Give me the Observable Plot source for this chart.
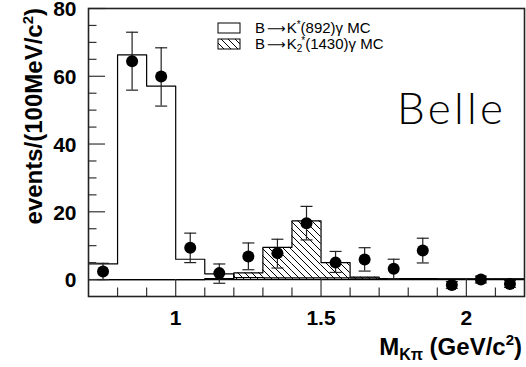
<!DOCTYPE html>
<html><head><meta charset="utf-8">
<script src="https://cdn.jsdelivr.net/npm/d3@7"></script>
<script src="https://cdn.jsdelivr.net/npm/@observablehq/plot@0.6"></script>
<style>body{margin:0;background:#fff} svg{display:block}</style>
</head><body><div id="chart"></div>
<script>
// Histogram bins (lower edges), width 0.1 GeV/c^2
const binLow = [0.7,0.8,0.9,1.0,1.1,1.2,1.3,1.4,1.5,1.6,1.7,1.8,1.9,2.0,2.1];
const binWidth = 0.1;
// B -> K*(892) gamma MC (open histogram)
const kstarMC = [4.6,66.3,57.1,6.0,1.7,0.6,0.5,0.5,0.5,0.4,0.3,0.3,0.2,0.2,0.2];
// B -> K2*(1430) gamma MC (hatched histogram)
const k2starMC = [0,0,0,0,0.3,2.0,9.5,17.3,5.0,0.7,0.2,0.2,0.1,0.1,0.1];
// Data points
const dataX  = [0.75,0.85,0.95,1.05,1.15,1.25,1.35,1.45,1.55,1.65,1.75,1.85,1.95,2.05,2.15];
const dataY  = [2.4,64.4,59.9,9.4,1.9,6.8,7.8,16.6,5.0,5.9,3.2,8.6,-1.6,0.0,-1.3];
const dataHi = [4.8,73.0,68.4,13.7,4.6,10.8,11.9,21.6,8.3,9.4,6.0,12.2,-0.6,1.0,-0.3];
const dataLo = [0.0,55.9,51.2,5.0,-1.1,2.9,3.4,11.7,2.1,2.5,0.2,4.9,-2.6,-1.0,-2.3];
// Ticks
const xMajorTicks = [1, 1.5, 2];
const xMinorTicks = [0.8,0.9,1.1,1.2,1.3,1.4,1.6,1.7,1.8,1.9,2.1];
const yMajorTicks = [0, 20, 40, 60, 80];
const yMinorTicks = [5,10,15,25,30,35,45,50,55,65,70,75];

const W = 526, H = 367, mL = 88, mR = 2, mT = 8, mB = 71;
const plotW = W - mL - mR, plotH = H - mT - mB;

const bins = binLow.map((x1, i) => ({x1, x2: x1 + binWidth, kstar: kstarMC[i], k2: k2starMC[i]}));
const edges = binLow.concat([binLow[binLow.length - 1] + binWidth]);
const kstarStep = edges.map((x, i) => ({x, y: kstarMC[Math.min(i, kstarMC.length - 1)]}));
const k2Step = edges.map((x, i) => ({x, y: k2starMC[Math.min(i, k2starMC.length - 1)]}));
const pts = dataX.map((x, i) => ({x, y: dataY[i], hi: dataHi[i], lo: dataLo[i]}));

const capSymbol = {draw(ctx, size) { const r = Math.sqrt(size / Math.PI); ctx.moveTo(-r, 0); ctx.lineTo(r, 0); }};

const svg = Plot.plot({
  width: W, height: H,
  marginLeft: mL, marginRight: mR, marginTop: mT, marginBottom: mB,
  style: {fontFamily: "'Liberation Sans', Arial, sans-serif", background: "white", color: "black"},
  x: {domain: [0.7, 2.2]},
  y: {domain: [-5, 80]},
  marks: [
    Plot.rectY(bins, {x1: "x1", x2: "x2", y: "k2", fill: "url(#hatch)"}),
    Plot.line(k2Step, {x: "x", y: "y", curve: "step-after", stroke: "black", strokeWidth: 1.2}),
    Plot.line(kstarStep, {x: "x", y: "y", curve: "step-after", stroke: "black", strokeWidth: 1.2}),
    Plot.ruleY([0], {stroke: "black", strokeWidth: 1.2}),
    Plot.tickY(yMajorTicks, {y: d => d, insetRight: plotW - 17, stroke: "#333", strokeWidth: 1.2}),
    Plot.tickY(yMinorTicks, {y: d => d, insetRight: plotW - 8.5, stroke: "#333", strokeWidth: 1.2}),
    Plot.tickX(xMajorTicks, {x: d => d, insetTop: plotH - 17, stroke: "#333", strokeWidth: 1.2}),
    Plot.tickX(xMinorTicks, {x: d => d, insetTop: plotH - 8.5, stroke: "#333", strokeWidth: 1.2}),
    Plot.axisY(yMajorTicks, {tickSize: 0, tickPadding: 12, dy: 1, fontSize: 21, fontWeight: "bold", label: null, tickFormat: d => String(d)}),
    Plot.axisX(xMajorTicks, {tickSize: 0, tickPadding: 14, fontSize: 21, fontWeight: "bold", label: null, tickFormat: d => String(d)}),
    Plot.ruleX(pts, {x: "x", y1: "lo", y2: "hi", stroke: "#222", strokeWidth: 1.2}),
    Plot.dot(pts, {x: "x", y: "hi", symbol: capSymbol, r: 6, fill: "none", stroke: "#222", strokeWidth: 1.2}),
    Plot.dot(pts, {x: "x", y: "lo", symbol: capSymbol, r: 6, fill: "none", stroke: "#222", strokeWidth: 1.2}),
    Plot.dot(pts, {x: "x", y: "y", r: 6, fill: "black"}),
    Plot.frame({stroke: "#222", strokeWidth: 1.6})
  ]
});

const s = d3.select(svg);
const defs = s.insert("defs", ":first-child");
const pat = defs.append("pattern").attr("id", "hatch").attr("patternUnits", "userSpaceOnUse")
  .attr("width", 7).attr("height", 7);
pat.append("rect").attr("width", 7).attr("height", 7).attr("fill", "white");
pat.append("path").attr("d", "M-1,6 L1,8 M0,0 L7,7 M6,-1 L8,1").attr("stroke", "black").attr("stroke-width", 1);

// Y title
const yt = s.append("text").attr("transform", "translate(42,8) rotate(-90)")
  .attr("text-anchor", "end").attr("font-size", 24).attr("font-weight", "bold").attr("fill", "black");
yt.append("tspan").text("events/(100MeV/c");
yt.append("tspan").attr("dy", -9).attr("font-size", 15).text("2");
yt.append("tspan").attr("dy", 9).text(")");

// X title
const xt = s.append("text").attr("x", 522).attr("y", 355).attr("text-anchor", "end")
  .attr("font-size", 24).attr("font-weight", "bold").attr("fill", "black");
xt.append("tspan").text("M");
xt.append("tspan").attr("dy", 5).attr("font-size", 16).text("Kπ");
xt.append("tspan").attr("dy", -5).text(" (GeV/c");
xt.append("tspan").attr("dy", -10).attr("font-size", 15).text("2");
xt.append("tspan").attr("dy", 10).text(")");

// Legend
s.append("rect").attr("x", 218).attr("y", 23).attr("width", 22).attr("height", 10)
  .attr("fill", "white").attr("stroke", "black").attr("stroke-width", 1);
s.append("rect").attr("x", 218).attr("y", 39).attr("width", 22).attr("height", 10)
  .attr("fill", "url(#hatch)").attr("stroke", "black").attr("stroke-width", 1);
function legendText(y, parts) {
  const t = s.append("text").attr("x", 255).attr("y", y).attr("text-anchor", "start").attr("font-size", 15).attr("fill", "black");
  t.append("tspan").text("B");
  t.append("tspan").attr("dx", 2).attr("font-family", "'DejaVu Sans'").attr("font-size", 13).text("\u27F6");
  t.append("tspan").attr("dx", 1).text("K");
  parts(t);
}
legendText(33, t => {
  t.append("tspan").attr("dy", -5).attr("font-size", 10).text("*");
  t.append("tspan").attr("dy", 5).text("(892)γ MC");
});
legendText(49, t => {
  t.append("tspan").attr("dy", 3).attr("font-size", 10).text("2");
  t.append("tspan").attr("dx", -1).attr("dy", -8).attr("font-size", 10).text("*");
  t.append("tspan").attr("dy", 5).text("(1430)γ MC");
});

// Belle label
s.append("text").attr("x", 397).attr("y", 124).attr("text-anchor", "start").attr("font-family", "Lato, 'DejaVu Sans'")
  .attr("font-weight", 300).attr("font-size", 44).attr("textLength", 106).attr("fill", "black").text("Belle");

document.getElementById("chart").appendChild(svg);
</script>
</body></html>
